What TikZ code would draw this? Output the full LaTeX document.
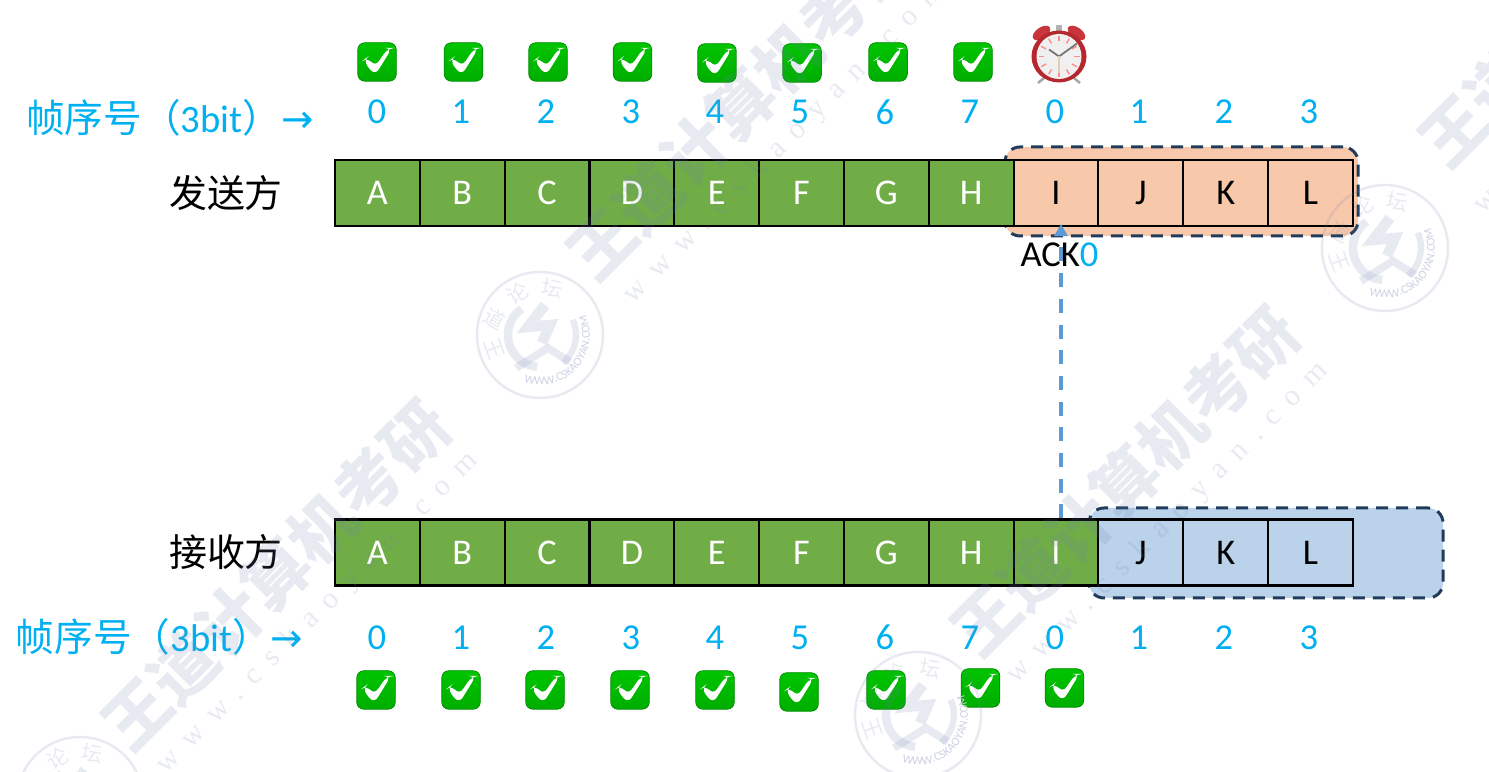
\documentclass[tikz,border=0pt]{standalone}
\usepackage{fontspec}
\usepackage{tikz}
\usetikzlibrary{arrows.meta,positioning,shapes.geometric,calc,decorations.text}
\setmainfont{Carlito}
\newfontfamily\cjkfont{Noto Sans CJK SC}
\newfontfamily\arrowfont{DejaVu Sans}
\newfontfamily\wwwfont[LetterSpace=45]{Liberation Serif}
\definecolor{seqblue}{HTML}{00B0F0}
\definecolor{framegreen}{HTML}{70AD47}
\definecolor{windoworange}{HTML}{F7C8AA}
\definecolor{windowblue}{HTML}{BAD3EA}
\definecolor{windowedge}{HTML}{203C5A}
\definecolor{ackblue}{HTML}{5B9BD5}
\definecolor{wmcolor}{HTML}{6F7FB0}
\definecolor{clockred}{HTML}{B5282E}
\definecolor{bellred}{HTML}{C8353A}
\definecolor{tickhigh}{HTML}{00C400}
\definecolor{ticklow}{HTML}{00AE00}
\definecolor{tickedge}{HTML}{008A00}

\begin{document}
\begin{tikzpicture}[
    frame/.style={rectangle, draw=black, line width=0.6pt, minimum width=0.848cm, minimum height=0.66cm, inner sep=0pt, text height=6.6pt, text depth=0pt, font=\fontsize{10.3}{12}\selectfont},
    done/.style={frame, fill=framegreen, text=white},
    sendwin/.style={frame, fill=windoworange},
    recvwin/.style={frame, fill=windowblue},
    window/.style={rectangle, draw=windowedge, line width=0.85pt, rounded corners=0.15cm, dash pattern=on 0.12cm off 0.08cm, minimum width=3.53cm, minimum height=0.89cm, inner sep=0pt},
    seqno/.style={text=seqblue, inner sep=0pt, font=\fontsize{10.4}{12}\selectfont},
    seqlabel/.style={text=seqblue, inner sep=0pt, font=\fontsize{11}{12}\selectfont},
    party/.style={inner sep=0pt, font=\fontsize{10.8}{12}\selectfont\cjkfont},
    tickbox/.style={rectangle, rounded corners=0.07cm, minimum size=0.385cm, inner sep=0pt, draw=tickedge, line width=0.2pt, top color=tickhigh, bottom color=ticklow,
        path picture={\fill[white] ([shift={(-0.14,0.015)}]path picture bounding box.center) -- ++(0.045,0.035) -- ++(0.075,-0.1) -- ++(0.13,0.19) -- ++(0.04,0) -- ++(-0.17,-0.275) -- cycle;}},
    ackarrow/.style={-{Triangle[length=1.2mm,width=1.3mm]}, ackblue, line width=1.1pt, dash pattern=on 0.14cm off 0.117cm},
    wmark/.style={text=wmcolor, opacity=0.16, inner sep=0pt},
    wmtitle/.style={wmark, rotate=45, font=\fontsize{18.6}{20}\selectfont\cjkfont\bfseries},
    wmurl/.style={wmark, rotate=45, font=\fontsize{8.5}{10}\selectfont\wwwfont},
    seal/.pic={
        \draw[wmcolor, opacity=0.16, line width=0.7pt] (0,0) circle (0.63);
        \draw[wmcolor, opacity=0.16, line width=2.4pt] (125:0.32) arc (125:265:0.32);
        \draw[wmcolor, opacity=0.16, line width=1.8pt] (25:0.36) arc (25:-50:0.36);
        \draw[wmcolor, opacity=0.16, line width=3pt] (0.05,0.3) -- (-0.12,0.08) -- (0.1,0.1) -- (0.02,-0.08);
        \draw[wmcolor, opacity=0.16, line width=2.2pt] (-0.24,-0.33) -- (0.08,-0.13) -- (0.3,-0.27);
        \node[wmark, rotate=-70, font=\fontsize{6}{7}\selectfont\cjkfont] (-a) at (197:0.48) {王};
        \node[wmark, rotate=-30, font=\fontsize{6}{7}\selectfont\cjkfont] (-b) at (160:0.48) {道};
        \node[wmark, rotate=30, font=\fontsize{6}{7}\selectfont\cjkfont] (-c) at (118:0.48) {论};
        \node[wmark, rotate=-10, font=\fontsize{6}{7}\selectfont\cjkfont] (-d) at (75:0.48) {坛};
        \path[postaction={decorate, decoration={text along path, text align=center, text={|\fontsize{3.4}{4}\selectfont\color{wmcolor!35}|WWW.CSKAOYAN.COM}}}] (245:0.5) arc (245:390:0.5);
    },
    alarm/.pic={
        % legs and knob
        \draw[gray!70, line width=0.7pt] (-0.13,-0.2) -- (-0.21,-0.265);
        \draw[gray!70, line width=0.7pt] (0.13,-0.2) -- (0.21,-0.265);
        \fill[gray!60] (-0.03,0.24) rectangle (0.03,0.31);
        % bells
        \fill[bellred, rotate around={35:(-0.175,0.235)}] (-0.175,0.235) ellipse (0.1 and 0.055);
        \fill[bellred, rotate around={-35:(0.175,0.235)}] (0.175,0.235) ellipse (0.1 and 0.055);
        % body
        \fill[clockred] (0,0) ellipse (0.275 and 0.26);
        \fill[gray!12] (0,0) circle (0.225);
        % hour marks
        \foreach \a in {0,30,...,330}
            \draw[red!45!white, line width=0.4pt] (\a:0.15) -- (\a:0.205);
        % hands
        \draw[gray!90!black, line width=0.5pt] (-0.1,0.07) -- (0,0) -- (0.18,0.13);
        \draw[brown!40, line width=0.4pt] (0,0) -- (0,-0.17);
    }
]
\useasboundingbox (0,0) rectangle (14.89,7.72);

% Windows behind the frames
\node[window, fill=windoworange] (SW) at (11.815,5.805) {};
\node[window, fill=windowblue, minimum width=3.54cm, minimum height=0.9cm] (RW) at (12.66,2.19) {};

% Sender frames
\node[done] (sA) at (3.774,5.79) {A};
\node[done] (sB) at (4.622,5.79) {B};
\node[done] (sC) at (5.470,5.79) {C};
\node[done] (sD) at (6.319,5.79) {D};
\node[done] (sE) at (7.167,5.79) {E};
\node[done] (sF) at (8.015,5.79) {F};
\node[done] (sG) at (8.864,5.79) {G};
\node[done] (sH) at (9.712,5.79) {H};
\node[sendwin] (sI) at (10.560,5.79) {I};
\node[sendwin] (sJ) at (11.408,5.79) {J};
\node[sendwin] (sK) at (12.257,5.79) {K};
\node[sendwin] (sL) at (13.105,5.79) {L};

% Receiver frames
\node[done] (rA) at (3.774,2.195) {A};
\node[done] (rB) at (4.622,2.195) {B};
\node[done] (rC) at (5.470,2.195) {C};
\node[done] (rD) at (6.319,2.195) {D};
\node[done] (rE) at (7.167,2.195) {E};
\node[done] (rF) at (8.015,2.195) {F};
\node[done] (rG) at (8.864,2.195) {G};
\node[done] (rH) at (9.712,2.195) {H};
\node[done] (rI) at (10.560,2.195) {I};
\node[recvwin] (rJ) at (11.408,2.195) {J};
\node[recvwin] (rK) at (12.257,2.195) {K};
\node[recvwin] (rL) at (13.105,2.195) {L};

% Party names
\node[party] (sender) at (2.26,5.79) {发送方};
\node[party] (receiver) at (2.26,2.2) {接收方};

% Sequence labels
\node[seqlabel] (sLabel) at (1.70,6.54) {{\cjkfont 帧序号（}3bit{\cjkfont ）}{\arrowfont →}};
\node[seqlabel] (rLabel) at (1.595,1.35) {{\cjkfont 帧序号（}3bit{\cjkfont ）}{\arrowfont →}};

% Sequence numbers of the sender
\node[seqno] (s0) at (3.77,6.6) {0};
\node[seqno] (s1) at (4.61,6.6) {1};
\node[seqno] (s2) at (5.46,6.6) {2};
\node[seqno] (s3) at (6.31,6.6) {3};
\node[seqno] (s4) at (7.15,6.6) {4};
\node[seqno] (s5) at (8.00,6.6) {5};
\node[seqno] (s6) at (8.85,6.6) {6};
\node[seqno] (s7) at (9.70,6.6) {7};
\node[seqno] (s8) at (10.55,6.6) {0};
\node[seqno] (s9) at (11.39,6.6) {1};
\node[seqno] (s10) at (12.24,6.6) {2};
\node[seqno] (s11) at (13.09,6.6) {3};

% Sequence numbers of the receiver
\node[seqno] (r0) at (3.77,1.345) {0};
\node[seqno] (r1) at (4.61,1.345) {1};
\node[seqno] (r2) at (5.46,1.345) {2};
\node[seqno] (r3) at (6.31,1.345) {3};
\node[seqno] (r4) at (7.15,1.345) {4};
\node[seqno] (r5) at (8.00,1.345) {5};
\node[seqno] (r6) at (8.85,1.345) {6};
\node[seqno] (r7) at (9.70,1.345) {7};
\node[seqno] (r8) at (10.55,1.345) {0};
\node[seqno] (r9) at (11.39,1.345) {1};
\node[seqno] (r10) at (12.24,1.345) {2};
\node[seqno] (r11) at (13.09,1.345) {3};

% Ticks of the sender
\node[tickbox] (sT0) at (3.77,7.10) {};
\node[tickbox] (sT1) at (4.635,7.10) {};
\node[tickbox] (sT2) at (5.48,7.10) {};
\node[tickbox] (sT3) at (6.325,7.10) {};
\node[tickbox] (sT4) at (7.17,7.09) {};
\node[tickbox] (sT5) at (8.02,7.09) {};
\node[tickbox] (sT6) at (8.88,7.10) {};
\node[tickbox] (sT7) at (9.73,7.10) {};

% Timer
\pic (timer) at (10.59,7.155) {alarm};

% Ticks of the receiver
\node[tickbox] (rT0) at (3.76,0.82) {};
\node[tickbox] (rT1) at (4.61,0.82) {};
\node[tickbox] (rT2) at (5.45,0.82) {};
\node[tickbox] (rT3) at (6.30,0.82) {};
\node[tickbox] (rT4) at (7.15,0.82) {};
\node[tickbox] (rT5) at (7.99,0.80) {};
\node[tickbox] (rT6) at (8.86,0.82) {};
\node[tickbox] (rT7) at (9.805,0.84) {};
\node[tickbox] (rT8) at (10.645,0.84) {};

% Acknowledgement
\draw[ackarrow] ([xshift=0.05cm]rI.north) -- ([xshift=0.05cm,yshift=0.03cm]sI.south);
\node[inner sep=0pt, font=\fontsize{10.4}{12}\selectfont] (ack) at (10.595,5.17) {ACK\textcolor{seqblue}{0}};

% Watermark
\begin{scope}
\clip (0,0) rectangle (14.89,7.72);
\node[wmtitle] (wm1) at (2.76,1.97) {王道计算机考研};
\node[wmtitle] (wm2) at (7.41,6.67) {王道计算机考研};
\node[wmtitle] (wm3) at (11.25,2.905) {王道计算机考研};
\node[wmtitle] (wm4) at (15.93,7.80) {王道计算机考研};
\node[wmurl] (url1) at (3.18,1.59) {www.cskaoyan.com};
\node[wmurl] (url2) at (7.85,6.29) {www.cskaoyan.com};
\node[wmurl] (url3) at (11.68,2.49) {www.cskaoyan.com};
\node[wmurl] (url4) at (16.35,7.19) {www.cskaoyan.com};
\pic (seal1) at (5.40,4.37) {seal};
\pic (seal2) at (13.85,5.24) {seal};
\pic (seal3) at (9.18,0.57) {seal};
\pic (seal4) at (0.80,-0.28) {seal};
\end{scope}
\end{tikzpicture}
\end{document}
